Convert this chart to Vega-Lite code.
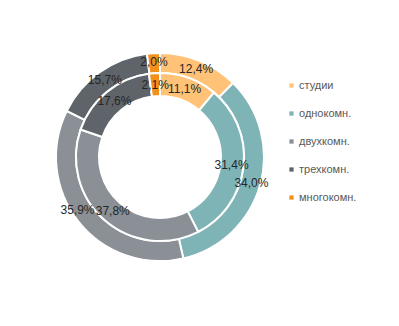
{
  "$schema": "https://vega.github.io/schema/vega-lite/v6.json",
  "width": 320,
  "height": 314,
  "padding": 0,
  "background": "white",
  "config": {
    "view": {"stroke": null},
    "locale": {"number": {"decimal": ",", "thousands": " ", "grouping": [3], "currency": ["", ""]}}
  },
  "data": {
    "values": [
      {"ring": "outer", "type": "студии", "ord": 1, "value": 0.124},
      {"ring": "outer", "type": "однокомн.", "ord": 2, "value": 0.340},
      {"ring": "outer", "type": "двухкомн.", "ord": 3, "value": 0.359},
      {"ring": "outer", "type": "трехкомн.", "ord": 4, "value": 0.157},
      {"ring": "outer", "type": "многокомн.", "ord": 5, "value": 0.020},
      {"ring": "inner", "type": "студии", "ord": 1, "value": 0.111},
      {"ring": "inner", "type": "однокомн.", "ord": 2, "value": 0.314},
      {"ring": "inner", "type": "двухкомн.", "ord": 3, "value": 0.378},
      {"ring": "inner", "type": "трехкомн.", "ord": 4, "value": 0.176},
      {"ring": "inner", "type": "многокомн.", "ord": 5, "value": 0.021}
    ]
  },
  "encoding": {
    "theta": {"field": "value", "type": "quantitative", "stack": true},
    "order": {"field": "ord", "type": "quantitative"},
    "color": {
      "field": "type",
      "type": "nominal",
      "scale": {
        "domain": ["студии", "однокомн.", "двухкомн.", "трехкомн.", "многокомн."],
        "range": ["#FFC277", "#7FB4B7", "#8A9095", "#5E6469", "#F39019"]
      },
      "legend": {
        "title": null,
        "orient": "none",
        "legendX": 286,
        "legendY": 80,
        "symbolType": "square",
        "symbolSize": 18,
        "symbolStrokeWidth": 0,
        "labelFont": "Liberation Sans",
        "labelFontSize": 11,
        "labelColor": "#595959",
        "labelOffset": 2,
        "rowPadding": 16
      }
    }
  },
  "layer": [
    {
      "transform": [{"filter": "datum.ring == 'outer'"}],
      "mark": {"type": "arc", "radius": 104, "radius2": 84, "stroke": "white", "strokeWidth": 2}
    },
    {
      "transform": [{"filter": "datum.ring == 'inner'"}],
      "mark": {"type": "arc", "radius": 84, "radius2": 61, "stroke": "white", "strokeWidth": 2}
    },
    {
      "transform": [{"filter": "datum.ring == 'outer'"}],
      "mark": {"type": "text", "radius": 95, "font": "Liberation Sans", "fontSize": 12},
      "encoding": {
        "text": {"field": "value", "type": "quantitative", "format": ".1%"},
        "color": {"value": "#262626"},
        "opacity": {"condition": {"test": "datum.type == 'двухкомн.'", "value": 0}, "value": 1}
      }
    },
    {
      "transform": [{"filter": "datum.ring == 'outer'"}],
      "mark": {"type": "text", "radius": 95, "dx": -8, "dy": -6, "font": "Liberation Sans", "fontSize": 12},
      "encoding": {
        "text": {"field": "value", "type": "quantitative", "format": ".1%"},
        "color": {"value": "#262626"},
        "opacity": {"condition": {"test": "datum.type == 'двухкомн.'", "value": 1}, "value": 0}
      }
    },
    {
      "transform": [{"filter": "datum.ring == 'inner'"}],
      "mark": {"type": "text", "radius": 72, "font": "Liberation Sans", "fontSize": 12},
      "encoding": {"text": {"field": "value", "type": "quantitative", "format": ".1%"}, "color": {"value": "#262626"}}
    }
  ]
}
